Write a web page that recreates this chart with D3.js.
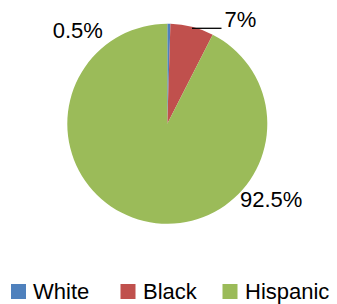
<!DOCTYPE html>
<html>
<head>
<meta charset="utf-8">
<script src="https://cdn.jsdelivr.net/npm/d3@7"></script>
<style>
  html, body { margin: 0; padding: 0; background: #fff; }
  svg { display: block; }
  text { font-family: "Liberation Sans", Arial, sans-serif; fill: #000; }
</style>
</head>
<body>
<svg id="chart" width="337" height="304"></svg>
<script>
const categories = ["White", "Black", "Hispanic"];
const values = [0.5, 7, 92.5];
const valueLabels = ["0.5%", "7%", "92.5%"];
const colors = ["#4F81BD", "#C0504D", "#9BBB59"];

const W = 337, H = 304;
const cx = 167.3, cy = 123.8, R = 100;
const svg = d3.select("#chart");

const data = categories.map((c, i) => ({ cat: c, value: values[i], label: valueLabels[i], color: colors[i] }));
const pie = d3.pie().value(d => d.value).sort(null);
const arc = d3.arc().innerRadius(0).outerRadius(R);
const arcs = pie(data);

const g = svg.append("g").attr("transform", `translate(${cx},${cy})`);
g.selectAll("path.slice").data(arcs).join("path")
  .attr("class", "slice")
  .attr("d", arc)
  .attr("fill", d => d.data.color);

// Data labels (placed as in the reference: outside, best fit)
const labelPos = [
  { x: 52.7 - cx, y: 38.3 - cy },
  { x: 224.5 - cx, y: 27 - cy },
  { x: 240 - cx, y: 207.3 - cy }
];
g.selectAll("text.lbl").data(arcs).join("text")
  .attr("class", "lbl")
  .attr("x", (d, i) => labelPos[i].x)
  .attr("y", (d, i) => labelPos[i].y)
  .attr("font-size", 22)
  .text(d => d.data.label);

// Leader line for Black label
g.append("line")
  .attr("x1", 192 - cx).attr("y1", 28.3 - cy)
  .attr("x2", 221.5 - cx).attr("y2", 28.3 - cy)
  .attr("stroke", "#000").attr("stroke-width", 1.3);

// Legend
const legendItems = [
  { sx: 11, tx: 33 },
  { sx: 120.5, tx: 143 },
  { sx: 222.5, tx: 245 }
];
const lg = svg.append("g");
data.forEach((d, i) => {
  lg.append("rect")
    .attr("x", legendItems[i].sx).attr("y", 284)
    .attr("width", 15).attr("height", 15)
    .attr("fill", d.color);
  lg.append("text")
    .attr("x", legendItems[i].tx).attr("y", 298.5)
    .attr("font-size", 22)
    .text(d.cat);
});
</script>
</body>
</html>
